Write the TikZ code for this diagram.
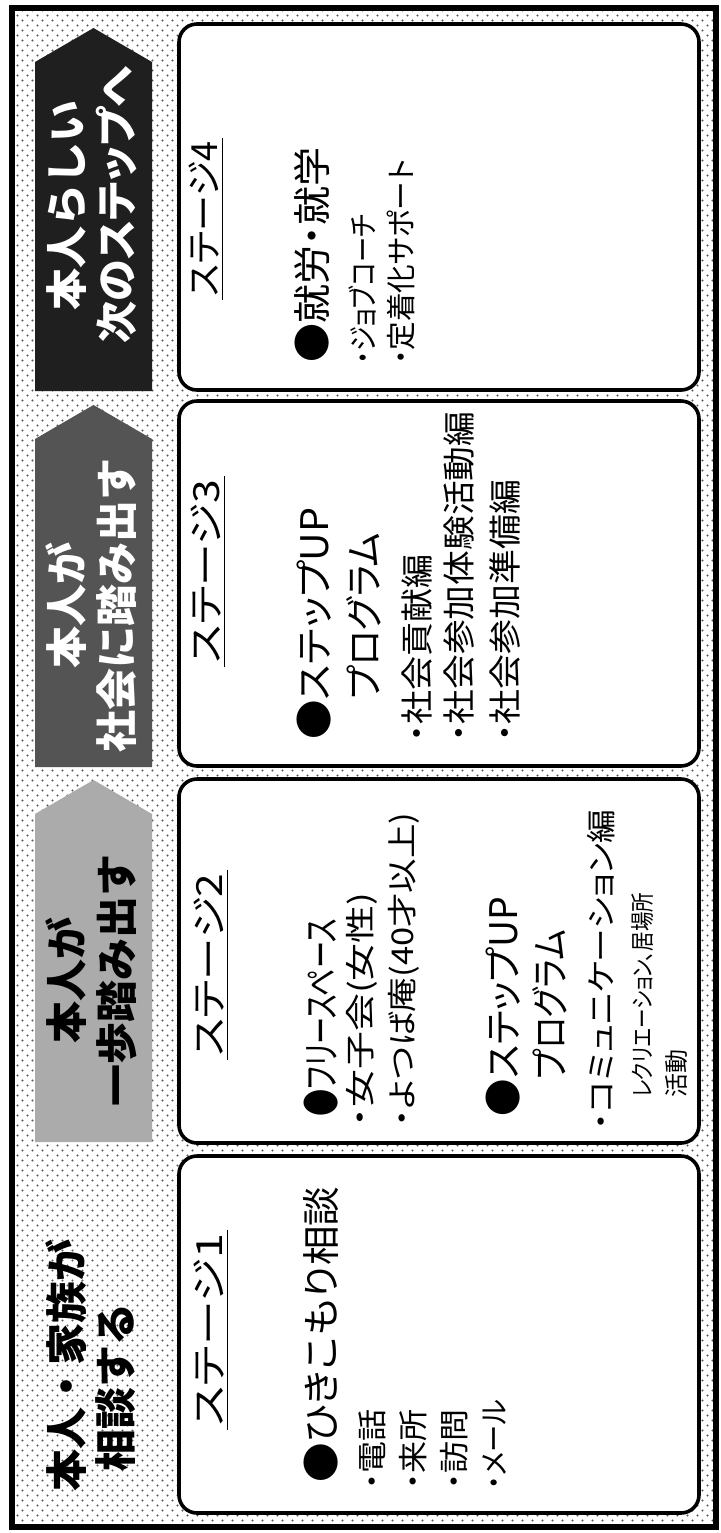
\documentclass[tikz,border=0pt]{standalone}
\usepackage{graphicx}
\usepackage{fontspec}
\usetikzlibrary{patterns}
\newfontfamily\jp[RawFeature=+palt]{Noto Sans CJK JP}
\newfontfamily\jphead{Noto Sans CJK JP}
\definecolor{stepBlack}{gray}{0.12}
\definecolor{stepDark}{gray}{0.33}
\definecolor{stepLight}{gray}{0.67}
\definecolor{dotInk}{gray}{0.35}
\newdimen\pxu \pxu=0.5pt
\newcommand{\fitw}[2]{\resizebox{#1\pxu}{\height}{#2}}
\pgfdeclarepatternformonly{bgdots}{\pgfqpoint{-0.2pt}{-0.2pt}}{\pgfqpoint{5.2pt}{5.2pt}}{\pgfqpoint{5pt}{5pt}}{%
  \pgfpathcircle{\pgfqpoint{1.25pt}{1.25pt}}{0.55pt}%
  \pgfpathcircle{\pgfqpoint{3.75pt}{3.75pt}}{0.55pt}%
  \pgfusepath{fill}}

\begin{document}
\begin{tikzpicture}[x=0.5pt,y=-0.5pt,
    stagebox/.style={draw=black,line width=1.8pt,fill=white,rounded corners=9pt},
    head/.style={rotate=90,align=center,inner sep=0pt,
                 font=\jphead\bfseries\fontsize{21}{25}\selectfont},
    ttl/.style={rotate=90,anchor=west,inner sep=1.5pt,
                font=\jp\fontsize{18}{20}\selectfont},
    big/.style={rotate=90,anchor=west,inner sep=0pt,
                font=\jp\fontsize{19}{20}\selectfont},
    mid/.style={rotate=90,anchor=west,inner sep=0pt,
                font=\jp\fontsize{16.5}{18}\selectfont},
    sub/.style={rotate=90,anchor=west,inner sep=0pt,
                font=\jp\fontsize{15}{17}\selectfont},
    note/.style={rotate=90,anchor=west,inner sep=0pt,
                 font=\jp\fontsize{12}{14}\selectfont}]
  \useasboundingbox (0,0) rectangle (720,1533);
  \fill[white] (0,0) rectangle (720,1533);
  % dotted ground and frame
  \fill[pattern=bgdots,pattern color=dotInk] (12,8) rectangle (716,1527);
  \draw[black,line width=2.6pt] (12,8) rectangle (716,1527);
  % stage boxes
  \foreach \t/\b in {24/390,401/766,779/1143,1156/1513}
    \draw[stagebox] (179,\t) rectangle (699,\b);
  % step arrows
  \foreach \t/\b/\c in {28/391/stepBlack,405/767/stepDark,780/1142/stepLight}
    \fill[\c] (35,\t+34) -- (93.5,\t) -- (152,\t+34) -- (152,\b) -- (35,\b) -- cycle;

  % headings
  \node[head,text=white] (h4) at (91.5,205) {本人らしい\\{\jp 次のステップへ}};
  \node[head,text=white] (h3) at (91.5,605) {本人が\\社会に踏み出す};
  \node[head] (h2) at (91.5,980) {本人が\\一歩踏み出す};
  \node[head,anchor=west] (h1a) at (66,1492) {本人・家族が};
  \node[head,anchor=west] (h1b) at (116,1472) {相談する};

  % stage 4
  \node[ttl] (s4) at (204,300) {\fitw{155}{ステージ4}};
  \draw[line width=0.8pt] (s4.south west) -- (s4.south east);
  \node[big] (s4a) at (312,363) {\fitw{215}{●就労・就学}};
  \node[sub] (s4b) at (362,365) {\fitw{150}{・ジョブコーチ}};
  \node[sub] (s4c) at (401,365) {\fitw{205}{・定着化サポート}};

  % stage 3
  \node[ttl] (s3) at (206,667) {\fitw{184}{ステージ3}};
  \draw[line width=0.8pt] (s3.south west) -- (s3.south east);
  \node[big] (s3a) at (314,740) {\fitw{232}{●ステップUP}};
  \node[big] (s3b) at (364,700) {\fitw{167}{プログラム}};
  \node[mid] (s3c) at (417,742) {\fitw{187}{・社会貢献編}};
  \node[mid] (s3d) at (459,742) {\fitw{330}{・社会参加体験活動編}};
  \node[mid] (s3e) at (505,742) {\fitw{262}{・社会参加準備編}};

  % stage 2
  \node[ttl] (s2) at (209,1060) {\fitw{183}{ステージ2}};
  \draw[line width=0.8pt] (s2.south west) -- (s2.south east);
  \node[big] (s2a) at (321,1117) {\fitw{198}{●フリースペース}};
  \node[sub] (s2b) at (362,1127) {\fitw{234}{・女子会(女性)}};
  \node[sub] (s2c) at (404,1127) {\fitw{314}{・よつば庵(40才以上)}};
  \node[big] (s2d) at (503,1117) {\fitw{220}{●ステップUP}};
  \node[big] (s2e) at (550,1080) {\fitw{150}{プログラム}};
  \node[sub] (s2f) at (601,1130) {\fitw{320}{・コミュニケーション編}};
  \node[note] (s2g) at (643,1098) {\fitw{205}{レクリエーション、居場所}};
  \node[note] (s2h) at (676,1098) {活動};

  % stage 1
  \node[ttl] (s1) at (209,1430) {\fitw{193}{ステージ1}};
  \draw[line width=0.8pt] (s1.south west) -- (s1.south east);
  \node[big] (s1a) at (321,1483) {\fitw{296}{●ひきこもり相談}};
  \node[sub] (s1b) at (372,1490) {\fitw{80}{・電話}};
  \node[sub] (s1c) at (413,1490) {\fitw{80}{・来所}};
  \node[sub] (s1d) at (454,1490) {\fitw{80}{・訪問}};
  \node[sub] (s1e) at (495,1490) {\fitw{90}{・メール}};
\end{tikzpicture}
\end{document}
